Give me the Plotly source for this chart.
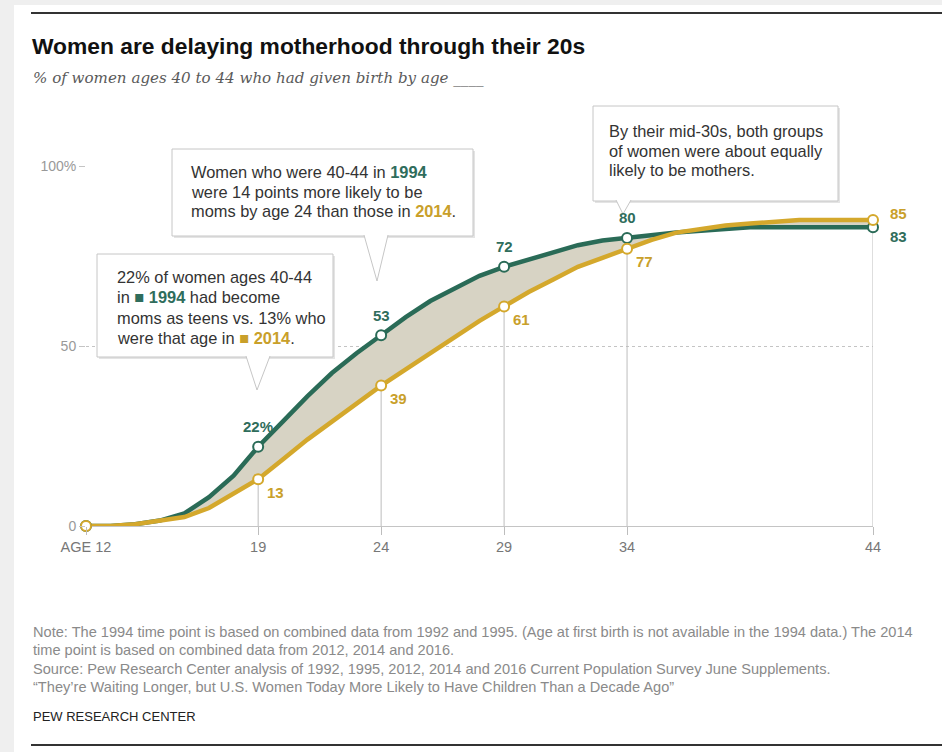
import plotly.graph_objects as go

# ---------------- data ----------------
ages = list(range(12, 45))
share_1994 = [0, 0, 0.5, 1.5, 3.5, 8, 14, 22, 29, 36, 42.5, 48, 53, 58, 62.5, 66, 69.5,
              72, 74, 76, 78, 79.3, 80, 81, 81.5, 82, 82.5, 83, 83, 83, 83, 83, 83]
share_2014 = [0, 0, 0.5, 1.5, 2.5, 5, 9, 13, 18.5, 24, 29, 34, 39, 43.5, 48, 52.5, 57,
              61, 65, 68.5, 72, 74.5, 77, 79.5, 81.5, 82.5, 83.5, 84, 84.5, 85, 85, 85, 85]
label_ages = [19, 24, 29, 34, 44]
marker_ages = [12, 19, 24, 29, 34, 44]
x_tick_vals = [12, 19, 24, 29, 34, 44]
x_tick_text = ["AGE 12", "19", "24", "29", "34", "44"]
y_tick_vals = [0, 50, 100]
y_tick_text = ["0", "50", "100%"]

title = "Women are delaying motherhood through their 20s"
subtitle = "% of women ages 40 to 44 who had given birth by age ____"
notes = [
    "Note: The 1994 time point is based on combined data from 1992 and 1995. (Age at first birth is not available in the 1994 data.) The 2014",
    "time point is based on combined data from 2012, 2014 and 2016.",
    "Source: Pew Research Center analysis of 1992, 1995, 2012, 2014 and 2016 Current Population Survey June Supplements.",
    "\u201cThey\u2019re Waiting Longer, but U.S. Women Today More Likely to Have Children Than a Decade Ago\u201d",
]
brand = "PEW RESEARCH CENTER"

# ---------------- style ----------------
GREEN = "#2a6b57"
GOLD = "#d4a82c"
GREEN_TXT = "#2f6d5c"
GOLD_TXT = "#c9a02a"
FILL = "#d7d3c4"
SANS = "Liberation Sans, Arial, sans-serif"
W, H = 942, 752


def X(px):
    return px / W


def Y(py):
    return 1 - py / H


v94 = dict(zip(ages, share_1994))
v14 = dict(zip(ages, share_2014))

fig = go.Figure()

# vertical guide lines from axis to points
gx, gy = [], []
for a in label_ages:
    gx += [a, a, None]
    gy += [0, max(v94[a], v14[a]), None]
fig.add_trace(go.Scatter(x=gx, y=gy, mode="lines", line=dict(color="#bdbdbd", width=1),
                         hoverinfo="skip", showlegend=False, cliponaxis=False))

# shaded gap between the two curves
fig.add_trace(go.Scatter(x=ages, y=share_1994, mode="lines", line=dict(width=0),
                         hoverinfo="skip", showlegend=False))
fig.add_trace(go.Scatter(x=ages, y=share_2014, mode="lines", line=dict(width=0),
                         fill="tonexty", fillcolor=FILL, hoverinfo="skip", showlegend=False))

# lines
fig.add_trace(go.Scatter(x=ages, y=share_1994, mode="lines", name="1994",
                         line=dict(color=GREEN, width=4.5), showlegend=False, cliponaxis=False))
fig.add_trace(go.Scatter(x=ages, y=share_2014, mode="lines", name="2014",
                         line=dict(color=GOLD, width=4.5), showlegend=False, cliponaxis=False))

# markers
fig.add_trace(go.Scatter(x=marker_ages, y=[v94[a] for a in marker_ages], mode="markers",
                         marker=dict(size=10, color="white", line=dict(color=GREEN, width=2)),
                         showlegend=False, cliponaxis=False))
fig.add_trace(go.Scatter(x=marker_ages, y=[v14[a] for a in marker_ages], mode="markers",
                         marker=dict(size=10, color="white", line=dict(color=GOLD, width=2)),
                         showlegend=False, cliponaxis=False))

annotations = []
# data labels
for i, a in enumerate(label_ages):
    g = v94[a]
    t = f"{g:g}%" if i == 0 else f"{g:g}"
    if a == ages[-1]:
        annotations.append(dict(x=a, y=g, xref="x", yref="y", text=f"<b>{t}</b>", showarrow=False,
                                xanchor="left", yanchor="middle", xshift=15, yshift=-9,
                                font=dict(family=SANS, size=15, color=GREEN_TXT)))
    else:
        annotations.append(dict(x=a, y=g, xref="x", yref="y", text=f"<b>{t}</b>", showarrow=False,
                                xanchor="center", yanchor="middle", yshift=20,
                                font=dict(family=SANS, size=15, color=GREEN_TXT)))
    y = v14[a]
    if a == ages[-1]:
        annotations.append(dict(x=a, y=y, xref="x", yref="y", text=f"<b>{y:g}</b>", showarrow=False,
                                xanchor="left", yanchor="middle", xshift=15, yshift=6,
                                font=dict(family=SANS, size=15, color=GOLD_TXT)))
    else:
        annotations.append(dict(x=a, y=y, xref="x", yref="y", text=f"<b>{y:g}</b>", showarrow=False,
                                xanchor="left", yanchor="middle", xshift=7, yshift=-13,
                                font=dict(family=SANS, size=15, color=GOLD_TXT)))

shapes = []

# page frame
shapes.append(dict(type="rect", xref="paper", yref="paper", x0=0, x1=X(14), y0=0, y1=1,
                   fillcolor="#efefef", line=dict(width=0), layer="below"))
shapes.append(dict(type="rect", xref="paper", yref="paper", x0=0, x1=1, y0=Y(5), y1=1,
                   fillcolor="#efefef", line=dict(width=0), layer="below"))
for yy in (13, 745):
    shapes.append(dict(type="line", xref="paper", yref="paper", x0=X(31), x1=1, y0=Y(yy), y1=Y(yy),
                       line=dict(color="#333333", width=2)))

# callout boxes: (left, top, right, bottom, pointer base left, base right, tip x, tip y)
boxes = [
    (97, 254, 333, 357, 246, 270, 257, 390),
    (172, 149, 473, 236, 364, 388, 377, 281),
    (593, 106, 838, 201, 616, 631, 623, 214),
]
for (l, t, r, b, p0, p1, tx, ty) in boxes:
    shapes.append(dict(type="rect", xref="paper", yref="paper", x0=X(l + 2), x1=X(r + 2),
                       y0=Y(b + 2), y1=Y(t + 2), fillcolor="#e4e4e4", line=dict(width=0)))
    shapes.append(dict(type="rect", xref="paper", yref="paper", x0=X(l), x1=X(r),
                       y0=Y(b), y1=Y(t), fillcolor="white", line=dict(color="#c6c6c6", width=1)))
    path = f"M {X(p0)},{Y(b - 1)} L {X(tx)},{Y(ty)} L {X(p1)},{Y(b - 1)}"
    shapes.append(dict(type="path", xref="paper", yref="paper", path=path,
                       fillcolor="white", line=dict(color="#c6c6c6", width=1)))

# callout texts
box_texts = [
    (115, [277, 297, 318, 338], [
        "22% of women ages 40-44",
        f"in <span style='color:{GREEN_TXT}'>\u25a0 <b>1994</b></span> had become",
        "moms as teens vs. 13% who",
        f"were that age in <span style='color:{GOLD_TXT}'>\u25a0 <b>2014</b></span>.",
    ]),
    (189, [172, 192, 211], [
        f"Women who were 40-44 in <span style='color:{GREEN_TXT}'><b>1994</b></span>",
        "were 14 points more likely to be",
        f"moms by age 24 than those in <span style='color:{GOLD_TXT}'><b>2014</b></span>.",
    ]),
    (607, [131, 151, 170], [
        "By their mid-30s, both groups",
        "of women were about equally",
        "likely to be mothers.",
    ]),
]
for (lx, ys, lines) in box_texts:
    for yy, line in zip(ys, lines):
        annotations.append(dict(x=X(lx), y=Y(yy), xref="paper", yref="paper", text=line,
                                showarrow=False, xanchor="left", yanchor="middle",
                                font=dict(family=SANS, size=16.4, color="#333333")))

# title / subtitle
annotations.append(dict(x=X(30), y=Y(46), xref="paper", yref="paper", text=f"<b>{title}</b>",
                        showarrow=False, xanchor="left", yanchor="middle",
                        font=dict(family=SANS, size=22.8, color="#111111")))
annotations.append(dict(x=X(31), y=Y(78), xref="paper", yref="paper", text=f"<i>{subtitle}</i>",
                        showarrow=False, xanchor="left", yanchor="middle",
                        font=dict(family="DejaVu Serif, serif", size=15.1, color="#5a5a5a")))

# notes
for yy, line in zip([632, 650, 669, 687], notes):
    annotations.append(dict(x=X(31), y=Y(yy), xref="paper", yref="paper", text=line,
                            showarrow=False, xanchor="left", yanchor="middle",
                            font=dict(family=SANS, size=14.6, color="#8a8a8a")))
annotations.append(dict(x=X(31), y=Y(716), xref="paper", yref="paper", text=brand,
                        showarrow=False, xanchor="left", yanchor="middle",
                        font=dict(family=SANS, size=13, color="#222222")))

fig.update_layout(
    width=W, height=H,
    margin=dict(l=0, r=0, t=0, b=0, pad=0, autoexpand=False),
    paper_bgcolor="white", plot_bgcolor="white",
    showlegend=False,
    shapes=shapes,
    annotations=annotations,
    xaxis=dict(domain=[X(86), X(873)], range=[12, 44], tickvals=x_tick_vals, ticktext=x_tick_text,
               showgrid=False, zeroline=False, showline=False, ticks="outside", ticklen=8,
               tickcolor="#bdbdbd", tickfont=dict(family=SANS, size=14.5, color="#777777"),
               fixedrange=True, automargin=False),
    yaxis=dict(domain=[Y(526), Y(166)], range=[0, 100], tickvals=y_tick_vals, ticktext=y_tick_text,
               showgrid=True, gridcolor="#c4c4c4", griddash="dot", gridwidth=1,
               zeroline=True, zerolinecolor="#c4c4c4", zerolinewidth=1, showline=False,
               ticks="outside", ticklen=6, tickcolor="#c4c4c4",
               tickfont=dict(family=SANS, size=14, color="#999999"), fixedrange=True,
               automargin=False),
)

fig.write_html("out.html")
